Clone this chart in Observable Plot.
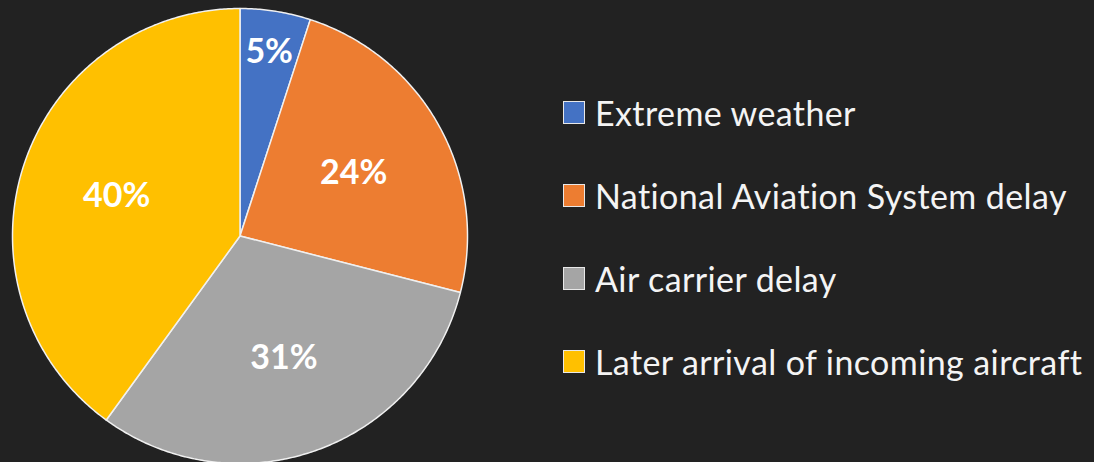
<!DOCTYPE html>
<html>
<head>
<meta charset="utf-8">
<script src="https://cdn.jsdelivr.net/npm/d3@7"></script>
<script src="https://cdn.jsdelivr.net/npm/@observablehq/plot@0.6"></script>
<style>
  html, body { margin: 0; padding: 0; background: #222222; }
  #wrap { position: relative; width: 1094px; height: 462px; overflow: hidden; background: #222222; }
  #legend { position: absolute; left: 563px; top: 71px; font-family: Lato, "Open Sans", sans-serif; color: #f4f4f4; }
  .row { display: flex; align-items: center; height: 83px; font-size: 34px; letter-spacing: 0.4px; white-space: nowrap; }
  .sw { width: 20px; height: 21px; border: 1px solid #e8e8e8; margin-right: 10px; flex: none; }
</style>
</head>
<body>
<div id="wrap"></div>
<script>
const categories = ["Extreme weather", "National Aviation System delay", "Air carrier delay", "Later arrival of incoming aircraft"];
const shares = [5, 24, 31, 40];
const labels = ["5%", "24%", "31%", "40%"];
const colors = ["#4472C4", "#ED7D31", "#A5A5A5", "#FFC000"];

const arcs = d3.pie().sort(null).value(d => d)(shares);
const outline = [];
arcs.forEach((a, i) => {
  const cat = categories[i];
  outline.push({cat, x: 0, y: 0});
  const n = Math.max(2, Math.ceil((a.endAngle - a.startAngle) / (Math.PI / 360)));
  for (let k = 0; k <= n; k++) {
    const t = a.startAngle + (a.endAngle - a.startAngle) * k / n;
    outline.push({cat, x: Math.sin(t), y: Math.cos(t)});
  }
});
const labelData = arcs.map((a, i) => {
  const mid = (a.startAngle + a.endAngle) / 2;
  const r = shares[i] < 10 ? 0.82 : 0.57;
  return {text: labels[i], x: r * Math.sin(mid), y: r * Math.cos(mid)};
});

const chart = Plot.plot({
  width: 1094,
  height: 462,
  margin: 0,
  x: {domain: [-1, 1], range: [12, 467], axis: null},
  y: {domain: [-1, 1], range: [463, 8], axis: null},
  color: {domain: categories, range: colors},
  style: {background: "#222222", overflow: "visible"},
  marks: [
    Plot.line(outline, {x: "x", y: "y", z: "cat", fill: "cat", stroke: "#f0f0f0", strokeWidth: 1.5, strokeLinejoin: "round", curve: "linear-closed"}),
    Plot.text(labelData, {x: "x", y: "y", text: "text", fill: "#ffffff", fontSize: 34, fontWeight: "bold", fontFamily: "Lato, 'Open Sans', sans-serif"})
  ]
});
const wrap = document.getElementById("wrap");
wrap.appendChild(chart);

const legend = document.createElement("div");
legend.id = "legend";
categories.forEach((c, i) => {
  const row = document.createElement("div");
  row.className = "row";
  const sw = document.createElement("div");
  sw.className = "sw";
  sw.style.background = colors[i];
  const tx = document.createElement("span");
  tx.textContent = c;
  row.appendChild(sw);
  row.appendChild(tx);
  legend.appendChild(row);
});
wrap.appendChild(legend);
</script>
</body>
</html>
